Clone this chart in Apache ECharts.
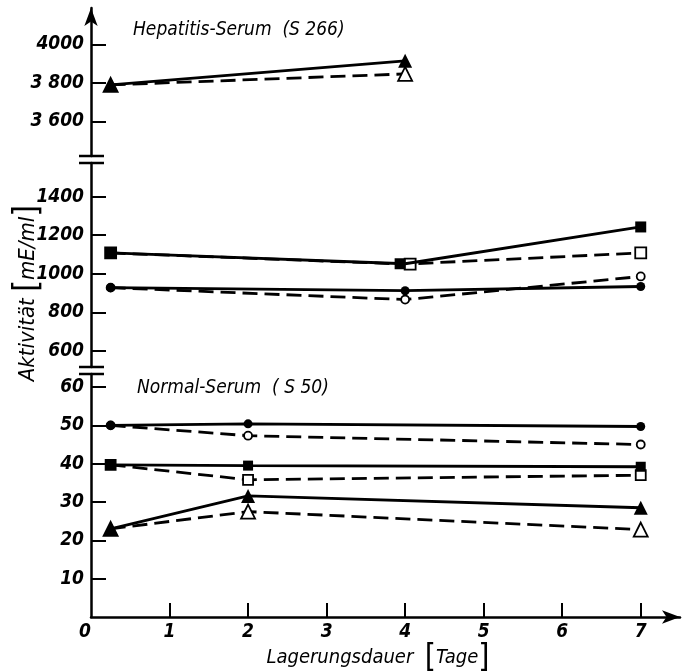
<!DOCTYPE html>
<html style="height: 100%">
<head>
<meta charset="utf-8">
<title>Aktivität / Lagerungsdauer</title>
<script src="https://cdn.jsdelivr.net/npm/echarts@6/dist/echarts.min.js"></script>
</head>
<body style="height: 100%; margin: 0; background: #fff">
<div id="container" style="width: 686px; height: 672px"></div>
<script type="text/javascript">
// Hepatitis-Serum (S 266)
var hepDays = [0.25, 4];
var hepSolidTri = [3790, 3915];
var hepDashTri = [3790, 3847];
// Hepatitis-Serum, middle panel
var midDays = [0.25, 4, 7];
var midSolidSq = [1108, 1052, 1243];
var midDashSq = [1108, 1050, 1108];
var midSolidCirc = [928, 912, 934];
var midDashCirc = [928, 866, 986];
// Normal-Serum (S 50)
var normDays = [0.25, 2, 7];
var normSolidCirc = [50, 50.4, 49.7];
var normDashCirc = [50, 47.3, 45];
var normSolidSq = [39.7, 39.5, 39.2];
var normDashSq = [39.7, 35.8, 37];
var normSolidTri = [23, 31.6, 28.5];
var normDashTri = [23, 27.5, 22.8];

// tick labels
var xTicks = [0, 1, 2, 3, 4, 5, 6, 7];
var topTicks = [3600, 3800, 4000];
var topLabels = {3600: '3 600', 3800: '3 800', 4000: '4000'};
var midTicks = [600, 800, 1000, 1200, 1400];
var lowTicks = [10, 20, 30, 40, 50, 60];

var FONT = '"DejaVu Sans Condensed", "DejaVu Sans"';
var TICKFONT = '"Liberation Sans Narrow", "DejaVu Sans Condensed", "DejaVu Sans"';
var AX_L = 91;

var dom = document.getElementById('container');
var myChart = echarts.init(dom);

function pts(xs, ys) {
    return xs.map(function (x, i) { return [x, ys[i]]; });
}

function line(name, xs, ys, idx, dashed, symbol, size, filled, offsets) {
    var data = pts(xs, ys).map(function (p, i) {
        var item = {value: p};
        if (offsets && offsets[i]) item.symbolOffset = offsets[i];
        return item;
    });
    return {
        name: name,
        type: 'line',
        xAxisIndex: idx,
        yAxisIndex: idx,
        data: data,
        symbol: symbol,
        symbolSize: size,
        showAllSymbol: true,
        z: dashed ? 2 : 3,
        lineStyle: {color: '#000', width: 2.8, type: dashed ? [15, 7] : 'solid'},
        itemStyle: {color: filled ? '#000' : '#fff', borderColor: '#000', borderWidth: filled ? 0 : 1.8},
        animation: false
    };
}

function yAxis(idx, min, max, ticks, fmt, arrow) {
    return {
        type: 'value',
        gridIndex: idx,
        min: min,
        max: max,
        splitLine: {show: false},
        axisLine: {
            show: true,
            lineStyle: {color: '#000', width: 2.5},
            symbol: arrow ? ['none', 'arrow'] : 'none',
            symbolSize: [10, 18]
        },
        axisTick: {show: true, inside: true, length: 15, lineStyle: {color: '#000', width: 2}, customValues: ticks},
        axisLabel: {
            customValues: ticks,
            color: '#000', fontFamily: TICKFONT, fontStyle: 'italic', fontWeight: 'bold', fontSize: 19, margin: 7,
            formatter: fmt
        }
    };
}

function xAxis(idx, visible) {
    return {
        type: 'value',
        gridIndex: idx,
        min: 0,
        max: 7.5,
        show: visible,
        splitLine: {show: false},
        axisLine: {
            show: true,
            lineStyle: {color: '#000', width: 2.5},
            symbol: ['none', 'arrow'],
            symbolSize: [10, 18]
        },
        axisTick: {show: true, inside: true, length: 14, lineStyle: {color: '#000', width: 2}, customValues: xTicks.slice(1)},
        axisLabel: {
            customValues: xTicks, color: '#000', fontFamily: TICKFONT, fontStyle: 'italic', fontWeight: 'bold', fontSize: 19, margin: 6,
            formatter: function (v) { return v === 0 ? '0  ' : String(v); }
        }
    };
}

// break marks on the y axis
var breaks = [156, 163, 367, 374];
var graphics = breaks.map(function (y) {
    return {type: 'line', shape: {x1: AX_L - 12, y1: y, x2: AX_L + 13, y2: y}, style: {stroke: '#000', lineWidth: 2.5}};
});
graphics.push({
    type: 'text', x: 28, y: 293, rotation: Math.PI / 2,
    style: {
        text: 'Aktivität {b|[}mE/ml{b|]}', fill: '#000', font: 'italic 22px ' + FONT,
        align: 'center', verticalAlign: 'middle',
        rich: {b: {fontSize: 34, fontFamily: FONT, fill: '#000'}}
    }
});
graphics.push({
    type: 'text', x: 378, y: 658,
    style: {
        text: 'Lagerungsdauer  {b|[}Tage{b|]}', fill: '#000', font: 'italic 20px ' + FONT,
        align: 'center', verticalAlign: 'middle',
        rich: {b: {fontSize: 32, fontFamily: FONT, fill: '#000'}}
    }
});
graphics.push({type: 'text', x: 133, y: 30, style: {text: 'Hepatitis-Serum  (S 266)', fill: '#000', font: 'italic 19px ' + FONT, verticalAlign: 'middle'}});
graphics.push({type: 'text', x: 137, y: 388, style: {text: 'Normal-Serum  ( S 50)', fill: '#000', font: 'italic 19px ' + FONT, verticalAlign: 'middle'}});

var option = {
    backgroundColor: '#fff',
    grid: [
        {left: AX_L, right: 6, top: 8, height: 148},
        {left: AX_L, right: 6, top: 163, height: 204},
        {left: AX_L, right: 6, top: 374, height: 243}
    ],
    xAxis: [xAxis(0, false), xAxis(1, false), xAxis(2, true)],
    yAxis: [
        yAxis(0, 3420, 4190, topTicks, function (v) { return topLabels[v]; }, true),
        yAxis(1, 516, 1575, midTicks, function (v) { return String(v); }, false),
        yAxis(2, 0, 63.4, lowTicks, function (v) { return String(v); }, false)
    ],
    graphic: graphics,
    series: [
        line('hep dash', hepDays, hepDashTri, 0, true, 'triangle', 14, false),
        line('hep solid', hepDays, hepSolidTri, 0, false, 'triangle', 14, true),
        line('mid dash sq', midDays, midDashSq, 1, true, 'rect', 11, false, [null, [5, 0], null]),
        line('mid solid sq', midDays, midSolidSq, 1, false, 'rect', 11, true, [null, [-5, 0], null]),
        line('mid dash circ', midDays, midDashCirc, 1, true, 'circle', 8, false),
        line('mid solid circ', midDays, midSolidCirc, 1, false, 'circle', 9, true),
        line('norm dash circ', normDays, normDashCirc, 2, true, 'circle', 8, false),
        line('norm solid circ', normDays, normSolidCirc, 2, false, 'circle', 9, true),
        line('norm dash sq', normDays, normDashSq, 2, true, 'rect', 10, false),
        line('norm solid sq', normDays, normSolidSq, 2, false, 'rect', 10, true),
        line('norm dash tri', normDays, normDashTri, 2, true, 'triangle', 14, false),
        line('norm solid tri', normDays, normSolidTri, 2, false, 'triangle', 14, true)
    ]
};
myChart.setOption(option);
</script>
</body>
</html>
